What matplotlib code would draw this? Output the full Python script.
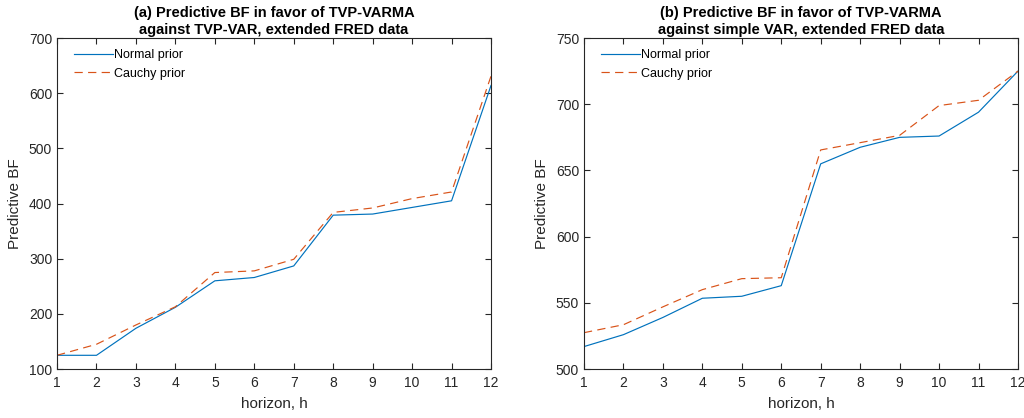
import matplotlib
matplotlib.use("Agg")
import matplotlib.pyplot as plt

plt.rcParams['font.family'] = ['Liberation Sans', 'DejaVu Sans']

horizon = list(range(1, 13))
normal_a = [125, 125, 174, 212, 260, 266, 287, 379, 381, 393, 405, 614]
cauchy_a = [125, 145, 180, 213, 275, 278, 299, 384, 392, 409, 421, 631]
normal_b = [517, 526, 539, 553.5, 555, 563, 655, 667.5, 675, 676, 694, 725]
cauchy_b = [527.5, 533.5, 547, 560, 568.3, 569, 665.5, 671, 676.5, 699, 703, 725]

titles = ["(a) Predictive BF in favor of TVP-VARMA\nagainst TVP-VAR, extended FRED data",
          "(b) Predictive BF in favor of TVP-VARMA\nagainst simple VAR, extended FRED data"]
ylims = [(100, 700), (500, 750)]
yticks = [[100, 200, 300, 400, 500, 600, 700], [500, 550, 600, 650, 700, 750]]

blue = '#0072BD'
orange = '#D95319'
gray = '#262626'

fig = plt.figure(figsize=(10.24, 4.18), dpi=100)
positions = [[0.0557, 0.117, 0.4238, 0.792], [0.5703, 0.117, 0.4238, 0.792]]
data = [(normal_a, cauchy_a), (normal_b, cauchy_b)]

for i in range(2):
    ax = fig.add_axes(positions[i])
    n, c = data[i]
    ax.plot(horizon, n, color=blue, lw=0.85, label='Normal prior')
    ax.plot(horizon, c, color=orange, lw=0.85, ls=(0, (7, 4.5)), label='Cauchy prior')
    ax.set_xlim(1, 12)
    ax.set_ylim(*ylims[i])
    ax.set_xticks(horizon)
    ax.set_yticks(yticks[i])
    ax.tick_params(direction='in', top=True, right=True, labelsize=10, colors=gray, length=4, width=0.8)
    ax.tick_params(axis='x', pad=5)
    for s in ax.spines.values():
        s.set_color(gray)
        s.set_linewidth(0.8)
    ax.set_xlabel('horizon, h', fontsize=11, color=gray, labelpad=5)
    ax.set_ylabel('Predictive BF', fontsize=11, color=gray, labelpad=5)
    ax.set_title(titles[i], fontsize=10.5, fontweight='bold', color='black', pad=3, linespacing=1.3)
    leg = ax.legend(loc='upper left', bbox_to_anchor=(0.028, 0.981), frameon=False, fontsize=9,
                    handlelength=3.1, borderaxespad=0.0, handletextpad=0.1, labelspacing=0.5)

fig.savefig('out.png', dpi=100)
